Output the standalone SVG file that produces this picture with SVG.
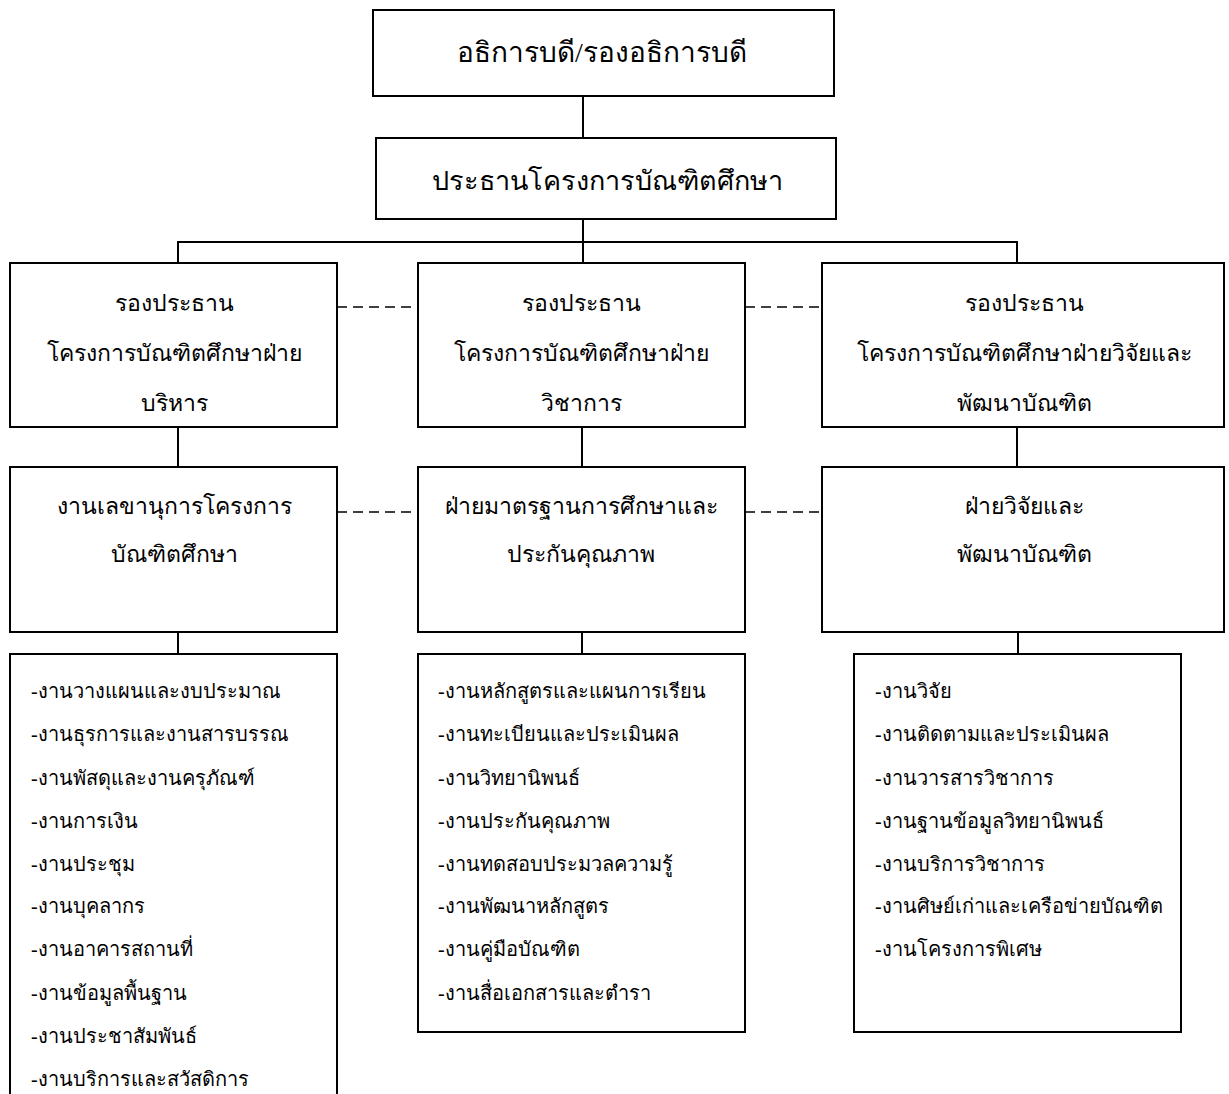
<svg xmlns="http://www.w3.org/2000/svg" width="1229" height="1094" viewBox="0 0 1229 1094">
<style>
.box{fill:#fff;stroke:#000;stroke-width:2}
.ln{stroke:#000;stroke-width:2;fill:none}
.dash{stroke:#000;stroke-width:1.6;stroke-dasharray:10 6;fill:none}
text{font-family:"Liberation Serif",serif;fill:#000}
.t{font-size:27px;text-anchor:middle}
.h{font-size:23px;text-anchor:middle}
.l{font-size:20px}
</style>
<rect width="1229" height="1094" fill="#fff"/>
<g id="connectors">
<line class="ln" x1="583" y1="96" x2="583" y2="138"/>
<line class="ln" x1="583" y1="219" x2="583" y2="263"/>
<polyline class="ln" points="178,263 178,242 1017,242 1017,263"/>
<line class="ln" x1="178" y1="427" x2="178" y2="467"/>
<line class="ln" x1="582" y1="427" x2="582" y2="467"/>
<line class="ln" x1="1017" y1="427" x2="1017" y2="467"/>
<line class="ln" x1="178" y1="632" x2="178" y2="654"/>
<line class="ln" x1="582" y1="632" x2="582" y2="654"/>
<line class="ln" x1="1018" y1="632" x2="1018" y2="654"/>
<line class="dash" x1="337" y1="307" x2="418" y2="307"/>
<line class="dash" x1="745" y1="307" x2="822" y2="307"/>
<line class="dash" x1="337" y1="512" x2="418" y2="512"/>
<line class="dash" x1="745" y1="512" x2="822" y2="512"/>
</g>
<g id="n-dean">
<rect class="box" x="373" y="10" width="461" height="86"/>
<text class="t" x="602" y="62" style="font-size:28px">อธิการบดี/รองอธิการบดี</text>
</g>
<g id="n-chair">
<rect class="box" x="376" y="138" width="460" height="81"/>
<text class="t" x="607" y="190">ประธานโครงการบัณฑิตศึกษา</text>
</g>
<g id="n-vp-admin">
<rect class="box" x="10" y="263" width="327" height="164"/>
<text class="h" x="174" y="311">รองประธาน</text>
<text class="h" x="174" y="361">โครงการบัณฑิตศึกษาฝ่าย</text>
<text class="h" x="174" y="411">บริหาร</text>
</g>
<g id="n-vp-acad">
<rect class="box" x="418" y="263" width="327" height="164"/>
<text class="h" x="581" y="311">รองประธาน</text>
<text class="h" x="581" y="361">โครงการบัณฑิตศึกษาฝ่าย</text>
<text class="h" x="581" y="411">วิชาการ</text>
</g>
<g id="n-vp-research">
<rect class="box" x="822" y="263" width="402" height="164"/>
<text class="h" x="1024" y="311">รองประธาน</text>
<text class="h" x="1024" y="361">โครงการบัณฑิตศึกษาฝ่ายวิจัยและ</text>
<text class="h" x="1024" y="411">พัฒนาบัณฑิต</text>
</g>
<g id="n-secretary">
<rect class="box" x="10" y="467" width="327" height="165"/>
<text class="h" x="174" y="514">งานเลขานุการโครงการ</text>
<text class="h" x="174" y="562">บัณฑิตศึกษา</text>
</g>
<g id="n-standards">
<rect class="box" x="418" y="467" width="327" height="165"/>
<text class="h" x="581" y="514">ฝ่ายมาตรฐานการศึกษาและ</text>
<text class="h" x="581" y="562">ประกันคุณภาพ</text>
</g>
<g id="n-research">
<rect class="box" x="822" y="467" width="402" height="165"/>
<text class="h" x="1024" y="514">ฝ่ายวิจัยและ</text>
<text class="h" x="1024" y="562">พัฒนาบัณฑิต</text>
</g>
<g id="n-list-admin">
<rect class="box" x="10" y="654" width="327" height="460"/>
<text class="l" x="31" y="698">-งานวางแผนและงบประมาณ</text>
<text class="l" x="31" y="741">-งานธุรการและงานสารบรรณ</text>
<text class="l" x="31" y="785">-งานพัสดุและงานครุภัณฑ์</text>
<text class="l" x="31" y="828">-งานการเงิน</text>
<text class="l" x="31" y="871">-งานประชุม</text>
<text class="l" x="31" y="913">-งานบุคลากร</text>
<text class="l" x="31" y="956">-งานอาคารสถานที่</text>
<text class="l" x="31" y="1000">-งานข้อมูลพื้นฐาน</text>
<text class="l" x="31" y="1043">-งานประชาสัมพันธ์</text>
<text class="l" x="31" y="1086">-งานบริการและสวัสดิการ</text>
</g>
<g id="n-list-acad">
<rect class="box" x="418" y="654" width="327" height="378"/>
<text class="l" x="438" y="698">-งานหลักสูตรและแผนการเรียน</text>
<text class="l" x="438" y="741">-งานทะเบียนและประเมินผล</text>
<text class="l" x="438" y="785">-งานวิทยานิพนธ์</text>
<text class="l" x="438" y="828">-งานประกันคุณภาพ</text>
<text class="l" x="438" y="871">-งานทดสอบประมวลความรู้</text>
<text class="l" x="438" y="913">-งานพัฒนาหลักสูตร</text>
<text class="l" x="438" y="956">-งานคู่มือบัณฑิต</text>
<text class="l" x="438" y="1000">-งานสื่อเอกสารและตำรา</text>
</g>
<g id="n-list-research">
<rect class="box" x="854" y="654" width="327" height="378"/>
<text class="l" x="875" y="698">-งานวิจัย</text>
<text class="l" x="875" y="741">-งานติดตามและประเมินผล</text>
<text class="l" x="875" y="785">-งานวารสารวิชาการ</text>
<text class="l" x="875" y="828">-งานฐานข้อมูลวิทยานิพนธ์</text>
<text class="l" x="875" y="871">-งานบริการวิชาการ</text>
<text class="l" x="875" y="913">-งานศิษย์เก่าและเครือข่ายบัณฑิต</text>
<text class="l" x="875" y="956">-งานโครงการพิเศษ</text>
</g>
</svg>
